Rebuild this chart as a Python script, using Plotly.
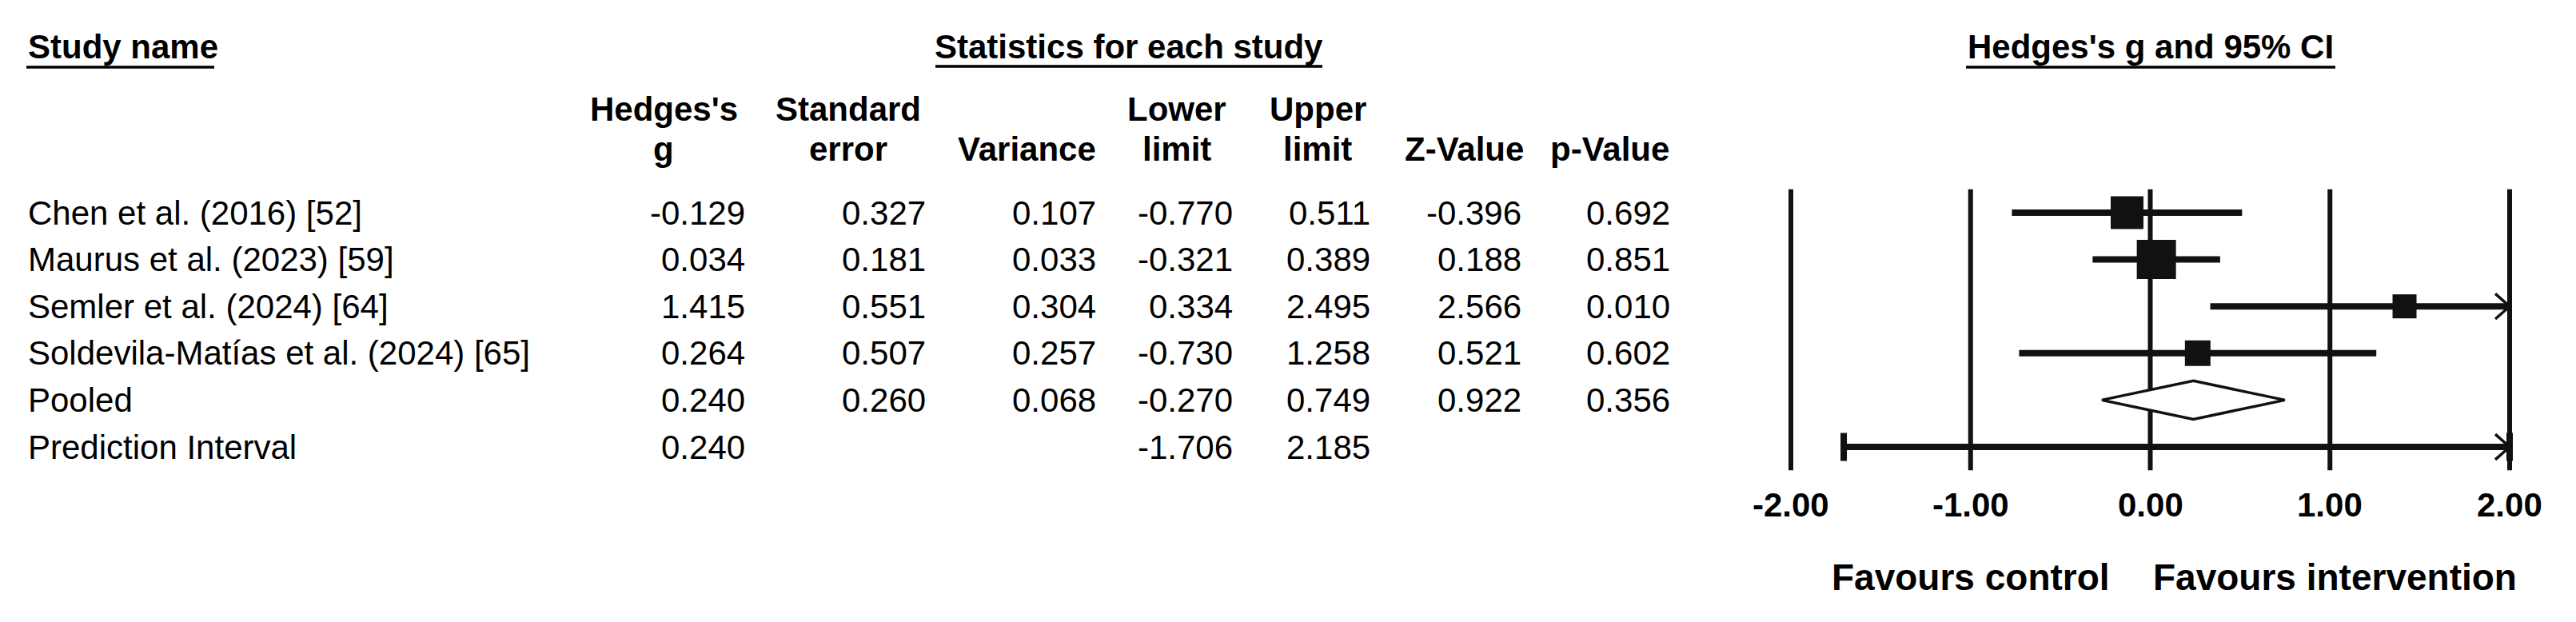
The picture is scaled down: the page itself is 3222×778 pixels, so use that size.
import plotly.graph_objects as go

W, H = 3222, 778

# ---------------- data ----------------
STUDIES = [
    "Chen et al. (2016) [52]",
    "Maurus et al. (2023) [59]",
    "Semler et al. (2024) [64]",
    "Soldevila-Matías et al. (2024) [65]",
]
HEDGES_G = [-0.129, 0.034, 1.415, 0.264]
STD_ERR = [0.327, 0.181, 0.551, 0.507]
VARIANCE = [0.107, 0.033, 0.304, 0.257]
LOWER = [-0.770, -0.321, 0.334, -0.730]
UPPER = [0.511, 0.389, 2.495, 1.258]
Z_VALUE = [-0.396, 0.188, 2.566, 0.521]
P_VALUE = [0.692, 0.851, 0.010, 0.602]

POOLED_LABEL = "Pooled"
POOLED_G = 0.240
POOLED_SE = 0.260
POOLED_VAR = 0.068
POOLED_LOWER = -0.270
POOLED_UPPER = 0.749
POOLED_Z = 0.922
POOLED_P = 0.356

PI_LABEL = "Prediction Interval"
PI_G = 0.240
PI_LOWER = -1.706
PI_UPPER = 2.185

TICK_VALS = [-2.0, -1.0, 0.0, 1.0, 2.0]
COL_HEADERS = [("Hedges's", "g"), ("Standard", "error"), ("", "Variance"),
               ("Lower", "limit"), ("Upper", "limit"), ("", "Z-Value"), ("", "p-Value")]

# ---------------- layout / style ----------------
FONT = "Arial, 'Liberation Sans', sans-serif"
INK = "#111111"
COL_RIGHT = [932, 1158, 1371, 1542, 1714, 1903, 2089]
COL_CENTER = [830, 1061, 1284, 1472, 1648, 1832, 2014]
BOX_PX = [41, 49, 30, 32]
X0_PX, UNIT_PX = 2689.5, 224.75
ROW0_PX, ROW_PX = 266.0, 58.6
XMIN, XMAX = -2.0, 2.0
XPAD, YPAD = 0.06, 0.6


def px(x):
    return x / W


def py(y):
    return 1 - y / H


n_rows = len(STUDIES) + 2
pooled_row = len(STUDIES)
pi_row = len(STUDIES) + 1

fig = go.Figure()

# vertical reference lines at ticks
vx, vy = [], []
for t in TICK_VALS:
    vx += [t, t, None]
    vy += [-0.5, n_rows - 0.5, None]
fig.add_trace(go.Scatter(x=vx, y=vy, mode="lines", line=dict(color=INK, width=6),
                         hoverinfo="skip", showlegend=False))

# study CIs
cx, cy = [], []
for i in range(len(STUDIES)):
    cx += [max(LOWER[i], XMIN), min(UPPER[i], XMAX), None]
    cy += [i, i, None]
fig.add_trace(go.Scatter(x=cx, y=cy, mode="lines", line=dict(color=INK, width=8),
                         hoverinfo="skip", showlegend=False))

# arrows for truncated intervals
AW, AH = 0.08, 0.27
ax_, ay_ = [], []
for i in range(len(STUDIES)):
    if UPPER[i] > XMAX:
        ax_ += [XMAX - AW, XMAX, XMAX - AW, None]
        ay_ += [i - AH, i, i + AH, None]
if PI_UPPER > XMAX:
    ax_ += [XMAX - AW, XMAX, XMAX - AW, None]
    ay_ += [pi_row - AH, pi_row, pi_row + AH, None]

# prediction interval
pi_lo, pi_hi = max(PI_LOWER, XMIN), min(PI_UPPER, XMAX)
fig.add_trace(go.Scatter(x=[pi_lo, pi_hi], y=[pi_row, pi_row], mode="lines",
                         line=dict(color=INK, width=8), hoverinfo="skip", showlegend=False))
CAP = 0.3
fig.add_trace(go.Scatter(x=[pi_lo, pi_lo, None, pi_hi, pi_hi],
                         y=[pi_row - CAP, pi_row + CAP, None, pi_row - CAP, pi_row + CAP],
                         mode="lines", line=dict(color=INK, width=8),
                         hoverinfo="skip", showlegend=False))
fig.add_trace(go.Scatter(x=ax_, y=ay_, mode="lines", line=dict(color=INK, width=3.5),
                         hoverinfo="skip", showlegend=False))

# squares
fig.add_trace(go.Scatter(x=HEDGES_G, y=list(range(len(STUDIES))), mode="markers",
                         marker=dict(symbol="square", size=BOX_PX, color=INK, opacity=1,
                                     line=dict(width=0)),
                         hoverinfo="skip", showlegend=False))

# pooled diamond
DH = 0.41
fig.add_trace(go.Scatter(
    x=[POOLED_LOWER, POOLED_G, POOLED_UPPER, POOLED_G, POOLED_LOWER],
    y=[pooled_row, pooled_row - DH, pooled_row, pooled_row + DH, pooled_row],
    mode="lines", fill="toself", fillcolor="white",
    line=dict(color=INK, width=3.5), hoverinfo="skip", showlegend=False))

ann = []


def text(x, y, s, size=42, bold=False, anchor="left", xref="paper", yref="paper", xshift=0):
    ann.append(dict(x=x, y=y, xref=xref, yref=yref, text=(f"<b>{s}</b>" if bold else s),
                    showarrow=False, xanchor=anchor, yanchor="middle", xshift=xshift,
                    font=dict(family=FONT, size=size, color="black")))


# titles
text(px(33), py(58.5), "Study name", bold=True)
text(px(1412), py(58.5), "Statistics for each study", bold=True, anchor="center")
text(0, py(58.5), "Hedges's g and 95% CI", bold=True, anchor="center", xref="x")

# column headers
for (l1, l2), c in zip(COL_HEADERS, COL_CENTER):
    if l1:
        text(px(c), py(136.5), l1, bold=True, anchor="center")
    text(px(c), py(186), l2, bold=True, anchor="center")

# table rows
rows = []
for i, name in enumerate(STUDIES):
    rows.append((name, [HEDGES_G[i], STD_ERR[i], VARIANCE[i], LOWER[i], UPPER[i], Z_VALUE[i], P_VALUE[i]]))
rows.append((POOLED_LABEL, [POOLED_G, POOLED_SE, POOLED_VAR, POOLED_LOWER, POOLED_UPPER, POOLED_Z, POOLED_P]))
rows.append((PI_LABEL, [PI_G, None, None, PI_LOWER, PI_UPPER, None, None]))

for r, (name, vals) in enumerate(rows):
    text(px(33), r, name, yref="y")
    for v, rx in zip(vals, COL_RIGHT):
        if v is not None:
            text(px(rx + 2), r, f"{v:.3f}", anchor="right", yref="y")

# tick labels
for t in TICK_VALS:
    text(t, py(631.5), f"{t:.2f}", bold=True, anchor="center", xref="x")

# favours labels
text(0, py(722), "Favours control", size=46, bold=True, anchor="right", xref="x", xshift=-49)
text(0, py(722), "Favours intervention", size=46, bold=True, anchor="left", xref="x", xshift=1)

shapes = []
for x1, x2, yy in [(33, 268, 84), (1170, 1654, 83), (2459, 2921, 84)]:
    shapes.append(dict(type="line", xref="paper", yref="paper", x0=px(x1), x1=px(x2),
                       y0=py(yy), y1=py(yy), line=dict(color="black", width=3.5)))

xd = [px(X0_PX + UNIT_PX * (XMIN - XPAD)), px(X0_PX + UNIT_PX * (XMAX + XPAD))]
yd = [py(ROW0_PX + ROW_PX * (n_rows - 1 + YPAD)), py(ROW0_PX - ROW_PX * YPAD)]

fig.update_layout(
    width=W, height=H, margin=dict(l=0, r=0, t=0, b=0, pad=0),
    paper_bgcolor="white", plot_bgcolor="white",
    xaxis=dict(domain=xd, range=[XMIN - XPAD, XMAX + XPAD], visible=False, fixedrange=True),
    yaxis=dict(domain=yd, range=[n_rows - 1 + YPAD, -YPAD], visible=False, fixedrange=True),
    annotations=ann, shapes=shapes, showlegend=False,
)

fig.write_html("out.html", config={"displayModeBar": False},
               post_script="document.body.style.margin='0';document.body.style.overflow='hidden';")
